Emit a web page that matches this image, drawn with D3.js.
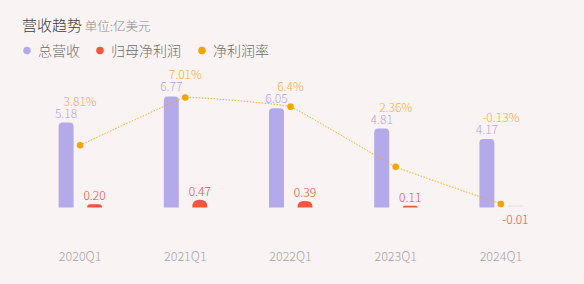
<!DOCTYPE html>
<html>
<head>
<meta charset="utf-8">
<script src="https://cdn.jsdelivr.net/npm/d3@7"></script>
<style>
  html, body { margin: 0; padding: 0; background: #faf3f3; }
  svg { display: block; font-family: "Microsoft YaHei", "Noto Sans CJK SC", sans-serif; font-weight: 300; }
</style>
</head>
<body>
<div id="chart"></div>
<script>
const quarters = ["2020Q1", "2021Q1", "2022Q1", "2023Q1", "2024Q1"];
const revenue = [5.18, 6.77, 6.05, 4.81, 4.17];
const netProfit = [0.20, 0.47, 0.39, 0.11, -0.01];
const netMargin = [3.81, 7.01, 6.4, 2.36, -0.13];
const seriesNames = ["总营收", "归母净利润", "净利润率"];

const width = 584, height = 284;
const colors = { rev: "#b5aae9", profit: "#f5543d", margin: "#f5a500" };
const labelColors = { rev: "#aea3e4", profit: "#ef4a3c", margin: "#f2ad34" };

const svg = d3.select("#chart").append("svg")
    .attr("width", width)
    .attr("height", height)
    .style("background", "#faf3f3");

// title
const title = svg.append("text").attr("x", 22).attr("y", 31);
title.append("tspan").text("营收趋势").attr("font-size", 15).attr("fill", "#3a3a3a");
title.append("tspan").text(" 单位:亿美元").attr("font-size", 12.5).attr("fill", "#8a8a8a");

// legend
const legendX = [27, 100, 202];
const legendColors = [colors.rev, colors.profit, colors.margin];
seriesNames.forEach((name, i) => {
    svg.append("circle").attr("cx", legendX[i]).attr("cy", 50.5).attr("r", 3.8).attr("fill", legendColors[i]);
    svg.append("text").attr("x", legendX[i] + 11).attr("y", 55.5)
        .attr("font-size", 14).attr("fill", "#6e6e6e").text(name);
});

const x = d3.scaleBand().domain(quarters).range([27.5, 553.5]);
const yBar = d3.scaleLinear().domain([0, 7]).range([207.5, 92.7]);
const yRate = d3.scaleLinear().domain([0, 8]).range([202, 82.8]);
const barW = 15;
const cx = q => x(q) + x.bandwidth() / 2;

function topRounded(x0, y0, w, h, r) {
    r = Math.min(r, h, w / 2);
    return `M${x0},${y0 + h}V${y0 + r}Q${x0},${y0} ${x0 + r},${y0}H${x0 + w - r}Q${x0 + w},${y0} ${x0 + w},${y0 + r}V${y0 + h}Z`;
}

const g = svg.append("g");

// revenue bars
g.selectAll(".rev").data(quarters).join("path")
    .attr("fill", colors.rev)
    .attr("d", (q, i) => {
        const top = yBar(revenue[i]);
        return topRounded(cx(q) - 14 - barW / 2, top, barW, yBar(0) - top, 4);
    });

g.selectAll(".rev-label").data(quarters).join("text")
    .attr("x", q => cx(q) - 14)
    .attr("y", (q, i) => yBar(revenue[i]) - 5)
    .attr("text-anchor", "middle")
    .attr("font-size", 12)
    .attr("fill", labelColors.rev)
    .text((q, i) => revenue[i].toFixed(2));

// net profit bars
g.selectAll(".profit").data(quarters).join("path")
    .attr("fill", (q, i) => netProfit[i] < 0 ? "#ead9d9" : colors.profit)
    .attr("d", (q, i) => {
        const v = netProfit[i];
        if (v < 0) return `M${cx(q) + 14.5 - barW / 2},${yBar(0) - 2}h${barW}v1h${-barW}Z`;
        const top = yBar(v);
        return topRounded(cx(q) + 14.5 - barW / 2, top, barW, yBar(0) - top, 7);
    });

g.selectAll(".profit-label").data(quarters).join("text")
    .attr("x", q => cx(q) + 14.5)
    .attr("y", (q, i) => netProfit[i] < 0 ? yBar(0) + 16.5 : yBar(netProfit[i]) - 4)
    .attr("text-anchor", "middle")
    .attr("font-size", 12)
    .attr("fill", labelColors.profit)
    .text((q, i) => netProfit[i].toFixed(2));

// margin line
const line = d3.line()
    .x(d => cx(d.q))
    .y(d => yRate(d.v))
    .curve(d3.curveCardinal.tension(0.8));
const rateData = quarters.map((q, i) => ({ q, v: netMargin[i] }));

g.append("path")
    .datum(rateData)
    .attr("d", line)
    .attr("fill", "none")
    .attr("stroke", colors.margin)
    .attr("stroke-width", 1)
    .attr("stroke-dasharray", "1.5,1.5")
    .attr("opacity", 0.85);

g.selectAll(".rate-dot").data(rateData).join("circle")
    .attr("cx", d => cx(d.q))
    .attr("cy", d => yRate(d.v))
    .attr("r", 3.3)
    .attr("fill", colors.margin);

g.selectAll(".rate-label").data(quarters).join("text")
    .attr("x", q => cx(q))
    .attr("y", (q, i) => yBar(revenue[i]) - 17)
    .attr("text-anchor", "middle")
    .attr("font-size", 12)
    .attr("fill", labelColors.margin)
    .text((q, i) => netMargin[i] + "%");

// x axis labels
svg.append("g")
    .attr("transform", "translate(0,249)")
    .call(d3.axisBottom(x).tickSize(0).tickPadding(0))
    .call(a => a.select(".domain").remove())
    .selectAll("text")
    .attr("dy", "0.95em")
    .attr("font-size", 12.5)
    .attr("font-family", "\"Microsoft YaHei\", \"Noto Sans CJK SC\", sans-serif")
    .attr("font-weight", 300)
    .attr("fill", "#a5a5a5");
</script>
</body>
</html>
